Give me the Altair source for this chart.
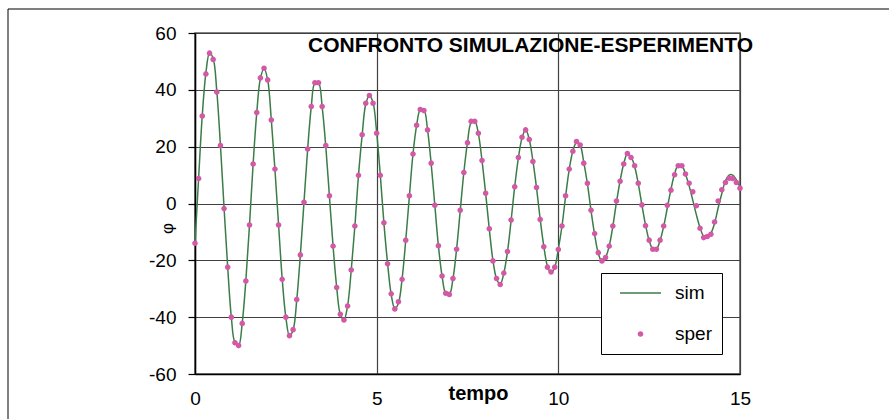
import altair as alt
import pandas as pd

# ---------------- data ----------------
TITLE = "CONFRONTO SIMULAZIONE-ESPERIMENTO"
SERIES = ["sim", "sper"]
TIME_STEP = 0.1  # sampling interval of both series (tempo)

SPER = [
    -14, 8.8, 30.8, 45.6, 52.9, 50.7, 39.2, 20.4, -1.8, -22.4,
    -40, -49, -50, -42.2, -27.3, -7.6, 13.9, 32, 44.2, 47.6,
    43.5, 29.4, 12.1, -7.6, -26.7, -40, -46.5, -44.4, -33.8, -18.1,
    0.4, 19.2, 34.1, 42.5, 42.5, 34.1, 20.4, 2.7, -15, -29.6,
    -39, -41, -36.1, -23.4, -7.9, 9.9, 24.2, 35.3, 38, 35.3,
    24.7, 9.9, -6.8, -21.2, -31.8, -37.1, -34.6, -26.7, -12.9, 2.7,
    17.4, 27.5, 33.1, 32.7, 25.9, 14.2, -0.6, -14.9, -25.5, -31.6,
    -32, -26.4, -16.1, -2.4, 10.9, 21.4, 28.9, 28.9, 24.7, 15.1,
    3.6, -8.9, -20.2, -26.4, -28.5, -24.5, -16.9, -5.8, 5.9, 16.2,
    23.3, 25.9, 22.5, 14.8, 5.6, -5.6, -15.2, -22.4, -24.1, -22.4,
    -16.2, -7.9, 2.7, 12.1, 18.4, 21.8, 20.6, 14.2, 7.1, -2.4,
    -10.6, -17.3, -20.2, -19, -15, -7.9, 0.9, 7.8, 13.9, 17.6,
    16.2, 13.3, 7.1, -0.5, -7.8, -12.9, -16.1, -16.1, -12.9, -7.9,
    -0.6, 4.7, 10.1, 13.3, 13.3, 10.4, 7.1, 4.1, -0.8, -8.7,
    -12, -11.6, -10.8, -6.5, 0.9, 4.8, 7.4, 8.9, 8.8, 7.4,
    5.4,
]

SIM = [
    -14, 9, 31, 46, 53, 51, 39.5, 20.5, -1.5, -22.5,
    -40, -49, -50, -42, -27, -7.5, 14, 32, 44, 47.5,
    43.5, 29.5, 12, -7.5, -26.5, -40, -46.5, -44.5, -34, -18,
    0.5, 19, 34, 42.5, 42.5, 34, 20, 2.5, -15, -29.5,
    -39, -41, -36, -23.5, -8, 10, 24, 35, 38, 35.5,
    25, 10, -7, -21, -32, -37, -35, -26.5, -13, 2.5,
    17.5, 27.5, 33, 33, 26, 14, -0.5, -15, -25.5, -31.5,
    -32, -26.5, -16, -2.5, 11, 21.5, 28.5, 29, 24.5, 15,
    3.5, -9, -20, -26.5, -28.5, -24.5, -17, -6, 6, 16,
    23, 26, 22.5, 15, 5.5, -5.5, -15, -22, -24.5, -22.5,
    -16, -8, 2.5, 12, 18.5, 21.5, 20.5, 14.5, 7, -2.5,
    -11, -17.5, -20.5, -19, -15, -8, 0.5, 8, 14, 17.5,
    16.5, 13, 7, -0.5, -7.5, -13, -16, -16, -13, -8,
    -1.5, 5, 10.5, 13.5, 13.3, 10.3, 6.2, 1.2, -4, -8.5,
    -11.5, -12, -10.5, -7, -1.5, 3.5, 8, 10, 10, 8.3,
    5.8,
]

X_TICKS = [0, 5, 10, 15]
Y_TICKS = [-60, -40, -20, 0, 20, 40, 60]

# ---------------- build tables ----------------
df_sim = pd.DataFrame({
    "tempo": [round(i * TIME_STEP, 1) for i in range(len(SIM))],
    "phi": SIM,
    "serie": SERIES[0],
})
df_sper = pd.DataFrame({
    "tempo": [round(i * TIME_STEP, 1) for i in range(len(SPER))],
    "phi": SPER,
    "serie": SERIES[1],
})

GREEN = "#3b7d46"
PINK = "#d358a6"
FONT = "Liberation Sans"

x_axis = alt.Axis(
    values=X_TICKS, title="tempo", grid=True, gridColor="#404040", gridWidth=1.2,
    ticks=False, domainColor="black", domainWidth=1.5,
    labelFont=FONT, labelFontSize=19, labelColor="black", labelPadding=15,
    labelFlush=False, labelOverlap=False,
    titleFont=FONT, titleFontSize=20, titleFontWeight="bold", titleColor="black",
    titleX=283, titleY=25.5, titleBaseline="alphabetic", titleAlign="center",
)
y_axis = alt.Axis(
    values=Y_TICKS, title="φ", grid=True, gridColor="#404040", gridWidth=1.2,
    ticks=True, tickSize=7, tickColor="black", tickWidth=1.2,
    domainColor="black", domainWidth=1.5,
    labelFont=FONT, labelFontSize=19, labelColor="black", labelPadding=12,
    labelFlush=False, labelOverlap=False, labelExpr="'' + datum.value",
    titleFont=FONT, titleFontSize=17, titleFontWeight="normal", titleColor="black",
    titleAngle=270, titleX=-28, titleY=195, titleAlign="center", titleBaseline="middle",
)

legend = alt.Legend(
    title=None, orient="none", legendX=406, legendY=240, direction="vertical",
    fillColor="white", strokeColor="black", padding=10,
    clipHeight=20, rowPadding=21,
    symbolOffset=8, labelOffset=13, symbolOpacity=1,
    labelFont=FONT, labelFontSize=19, labelColor="black",
    labelExpr="datum.label + ' '",
)

x_enc = alt.X("tempo:Q", scale=alt.Scale(domain=[0, 15], nice=False, zero=False), axis=x_axis)
y_enc = alt.Y("phi:Q", scale=alt.Scale(domain=[-60, 60], nice=False), axis=y_axis)
color_enc = alt.Color("serie:N", scale=alt.Scale(domain=SERIES, range=[GREEN, PINK]), legend=legend)
width_enc = alt.StrokeWidth("serie:N", scale=alt.Scale(domain=SERIES, range=[1.5, 2.8]), legend=legend)
shape_enc = alt.Shape("serie:N", scale=alt.Scale(domain=SERIES, range=["stroke", "circle"]), legend=legend)
size_enc = alt.Size("serie:N", scale=alt.Scale(domain=SERIES, range=[1681, 8]), legend=legend)

line = alt.Chart(df_sim).mark_line(interpolate="catmull-rom").encode(
    x=x_enc, y=y_enc, color=color_enc, strokeWidth=width_enc
)
points = alt.Chart(df_sper).mark_point(filled=False, opacity=1).encode(
    x=x_enc, y=y_enc, color=color_enc, strokeWidth=width_enc, shape=shape_enc, size=size_enc
)

frame = alt.Chart(pd.DataFrame({"k": [0]})).mark_rect(
    fill="white", fillOpacity=0, stroke="black", strokeWidth=1
).encode(x=alt.value(-187), x2=alt.value(706), y=alt.value(-24), y2=alt.value(400))

title_text = alt.Chart(pd.DataFrame({"testo": [TITLE]})).mark_text(
    align="right", baseline="alphabetic", font=FONT, fontSize=21, fontWeight="bold", color="black"
).encode(x=alt.value(558), y=alt.value(19.3), text="testo:N")

chart = alt.layer(frame, line, points, title_text).properties(
    width=545, height=341,
    autosize=alt.AutoSizeParams(type="none"),
    padding={"left": 195, "top": 33, "right": 149, "bottom": 45},
    background="white",
).configure_view(stroke="#5a5a5a", strokeWidth=1.5)

chart.save("out.html", embed_options={"renderer": "svg", "actions": False})
